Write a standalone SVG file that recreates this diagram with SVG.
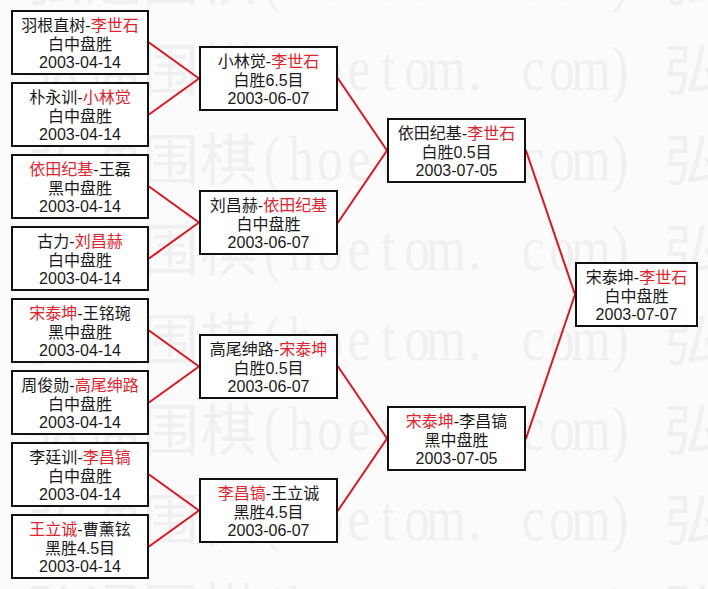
<svg xmlns="http://www.w3.org/2000/svg" width="708" height="589" viewBox="0 0 708 589">
<style>
.bg{fill:#fbfbfb}
.wmc{font-family:"Noto Sans CJK SC","Noto Sans CJK JP",sans-serif;font-size:56px;fill:#f0f0f0}
.wml{font-family:"Liberation Serif",serif;font-size:64px;fill:#f0f0f0}
.n{fill:#ffffff;stroke:#111111;stroke-width:2}
.t{font-family:"Liberation Sans","Noto Sans CJK SC","Noto Sans CJK JP",sans-serif;font-size:16px;fill:#1a1a1a;text-anchor:middle}
.r{fill:#e3232c}
.c line{stroke:#e0141e;stroke-width:2;stroke-linecap:round}
</style>
<defs>
<g id="wm">
<text class="wmc" text-anchor="middle" x="54.5 112.5 170.5 228.5" y="0">弘通围棋</text>
<text class="wmc" text-anchor="middle" x="692.5" y="0">弘</text>
<text class="wml" text-anchor="middle" transform="scale(0.8 1)" x="340 376.25 412.5 448.75 485 521.25 557.5 593.75 666.25 702.5 738.75 775" y="0">(hoetom.com)</text>
</g>
</defs>
<rect class="bg" x="0" y="0" width="708" height="589"/>
<g id="watermark">
<use href="#wm" y="0"/>
<use href="#wm" y="90"/>
<use href="#wm" y="180"/>
<use href="#wm" y="270"/>
<use href="#wm" y="360"/>
<use href="#wm" y="450"/>
<use href="#wm" y="540"/>
<use href="#wm" y="630"/>
</g>
<g id="connectors" class="c">
<line x1="149" y1="42.5" x2="199" y2="78.5"/>
<line x1="149" y1="114.5" x2="199" y2="78.5"/>
<line x1="149" y1="186.5" x2="199" y2="222.5"/>
<line x1="149" y1="258.5" x2="199" y2="222.5"/>
<line x1="149" y1="330.5" x2="199" y2="366.5"/>
<line x1="149" y1="402.5" x2="199" y2="366.5"/>
<line x1="149" y1="474.5" x2="199" y2="510.5"/>
<line x1="149" y1="546.5" x2="199" y2="510.5"/>
<line x1="338" y1="78.5" x2="387" y2="150.5"/>
<line x1="338" y1="222.5" x2="387" y2="150.5"/>
<line x1="338" y1="366.5" x2="387" y2="438.5"/>
<line x1="338" y1="510.5" x2="387" y2="438.5"/>
<line x1="526" y1="150.5" x2="575" y2="294.5"/>
<line x1="526" y1="438.5" x2="575" y2="294.5"/>
</g>
<g id="r1-1"><rect class="n" x="12" y="11" width="136" height="63"/>
<text class="t"><tspan x="80" y="31">羽根直树-</tspan><tspan class="r">李世石</tspan><tspan x="80" y="50">白中盘胜</tspan><tspan x="80" y="68">2003-04-14</tspan></text></g>
<g id="r1-2"><rect class="n" x="12" y="83" width="136" height="63"/>
<text class="t"><tspan x="80" y="103">朴永训-</tspan><tspan class="r">小林觉</tspan><tspan x="80" y="122">白中盘胜</tspan><tspan x="80" y="140">2003-04-14</tspan></text></g>
<g id="r1-3"><rect class="n" x="12" y="155" width="136" height="63"/>
<text class="t"><tspan x="80" y="175" class="r">依田纪基</tspan><tspan>-王磊</tspan><tspan x="80" y="194">黑中盘胜</tspan><tspan x="80" y="212">2003-04-14</tspan></text></g>
<g id="r1-4"><rect class="n" x="12" y="227" width="136" height="63"/>
<text class="t"><tspan x="80" y="247">古力-</tspan><tspan class="r">刘昌赫</tspan><tspan x="80" y="266">白中盘胜</tspan><tspan x="80" y="284">2003-04-14</tspan></text></g>
<g id="r1-5"><rect class="n" x="12" y="299" width="136" height="63"/>
<text class="t"><tspan x="80" y="319" class="r">宋泰坤</tspan><tspan>-王铭琬</tspan><tspan x="80" y="338">黑中盘胜</tspan><tspan x="80" y="356">2003-04-14</tspan></text></g>
<g id="r1-6"><rect class="n" x="12" y="371" width="136" height="63"/>
<text class="t"><tspan x="80" y="391">周俊勋-</tspan><tspan class="r">高尾绅路</tspan><tspan x="80" y="410">白中盘胜</tspan><tspan x="80" y="428">2003-04-14</tspan></text></g>
<g id="r1-7"><rect class="n" x="12" y="443" width="136" height="63"/>
<text class="t"><tspan x="80" y="463">李廷训-</tspan><tspan class="r">李昌镐</tspan><tspan x="80" y="482">白中盘胜</tspan><tspan x="80" y="500">2003-04-14</tspan></text></g>
<g id="r1-8"><rect class="n" x="12" y="515" width="136" height="63"/>
<text class="t"><tspan x="80" y="535" class="r">王立诚</tspan><tspan>-曹薰铉</tspan><tspan x="80" y="554">黑胜4.5目</tspan><tspan x="80" y="572">2003-04-14</tspan></text></g>
<g id="r2-1"><rect class="n" x="200" y="47" width="137" height="63"/>
<text class="t"><tspan x="268.5" y="67">小林觉-</tspan><tspan class="r">李世石</tspan><tspan x="268.5" y="86">白胜6.5目</tspan><tspan x="268.5" y="104">2003-06-07</tspan></text></g>
<g id="r2-2"><rect class="n" x="200" y="191" width="137" height="63"/>
<text class="t"><tspan x="268.5" y="211">刘昌赫-</tspan><tspan class="r">依田纪基</tspan><tspan x="268.5" y="230">白中盘胜</tspan><tspan x="268.5" y="248">2003-06-07</tspan></text></g>
<g id="r2-3"><rect class="n" x="200" y="335" width="137" height="63"/>
<text class="t"><tspan x="268.5" y="355">高尾绅路-</tspan><tspan class="r">宋泰坤</tspan><tspan x="268.5" y="374">白胜0.5目</tspan><tspan x="268.5" y="392">2003-06-07</tspan></text></g>
<g id="r2-4"><rect class="n" x="200" y="479" width="137" height="63"/>
<text class="t"><tspan x="268.5" y="499" class="r">李昌镐</tspan><tspan>-王立诚</tspan><tspan x="268.5" y="518">黑胜4.5目</tspan><tspan x="268.5" y="536">2003-06-07</tspan></text></g>
<g id="r3-1"><rect class="n" x="388" y="119" width="137" height="63"/>
<text class="t"><tspan x="456.5" y="139">依田纪基-</tspan><tspan class="r">李世石</tspan><tspan x="456.5" y="158">白胜0.5目</tspan><tspan x="456.5" y="176">2003-07-05</tspan></text></g>
<g id="r3-2"><rect class="n" x="388" y="407" width="137" height="63"/>
<text class="t"><tspan x="456.5" y="427" class="r">宋泰坤</tspan><tspan>-李昌镐</tspan><tspan x="456.5" y="446">黑中盘胜</tspan><tspan x="456.5" y="464">2003-07-05</tspan></text></g>
<g id="final"><rect class="n" x="576" y="263" width="121" height="63"/>
<text class="t"><tspan x="636.5" y="283">宋泰坤-</tspan><tspan class="r">李世石</tspan><tspan x="636.5" y="302">白中盘胜</tspan><tspan x="636.5" y="320">2003-07-07</tspan></text></g>
</svg>
